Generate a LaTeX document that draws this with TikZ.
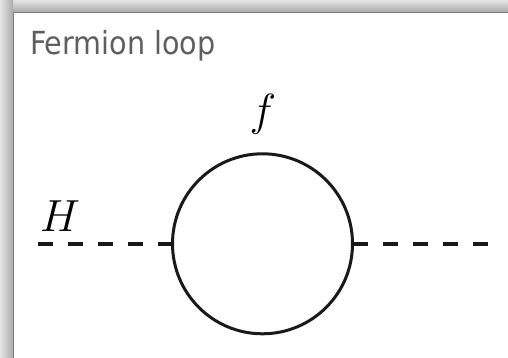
\RequirePackage{fix-cm}
\documentclass[tikz,border=0pt]{standalone}
\usepackage{fontspec}
\newfontfamily\titlefont{DejaVu Sans Condensed}
\definecolor{shlight}{HTML}{E4E4E4}
\definecolor{shdark}{HTML}{ABABAB}
\definecolor{edgegray}{HTML}{7C7C7C}
\definecolor{titlegray}{HTML}{5E5E5E}
\tikzset{
  scalar/.style={line width=4pt, dash pattern=on 15pt off 15pt, black!90},
  loopline/.style={circle, draw=black!90, line width=3pt, minimum size=180pt, inner sep=0pt, outer sep=0pt},
  mathlabel/.style={inner sep=0pt, font=\fontsize{45}{45}\selectfont},
}
\begin{document}
\begin{tikzpicture}[x=1pt,y=1pt]
\useasboundingbox (0,0) rectangle (508,358);
\fill[white] (0,0) rectangle (508,358);
% window shadow
\shade[left color=shlight, right color=shdark] (0,0) rectangle (13,346);
\shade[top color=shlight, bottom color=shdark] (13,346) rectangle (508,358);
\shade[left color=shlight, right color=shdark] (0,346) rectangle (13,358);
\draw[edgegray, line width=1.2pt] (13.4,0) -- (13.4,345.6) -- (508,345.6);
% title
\node[anchor=base west, inner sep=0pt, text=titlegray, font=\titlefont\fontsize{31.8}{31.8}\selectfont] (title) at (30,303) {Fermion loop};
% diagram
\node[loopline] (loop) at (262.5,114.2) {};
\coordinate (hl) at (38,114.2);
\coordinate (hr) at (488,114.2);
\draw[scalar] (hl) -- (loop.west);
\draw[scalar] (loop.east) -- (hr);
\node[mathlabel, anchor=base] (H) at (60,126.3) {$H$};
\node[mathlabel, anchor=base] (f) at (263,232.7) {$f$};
\end{tikzpicture}
\end{document}
